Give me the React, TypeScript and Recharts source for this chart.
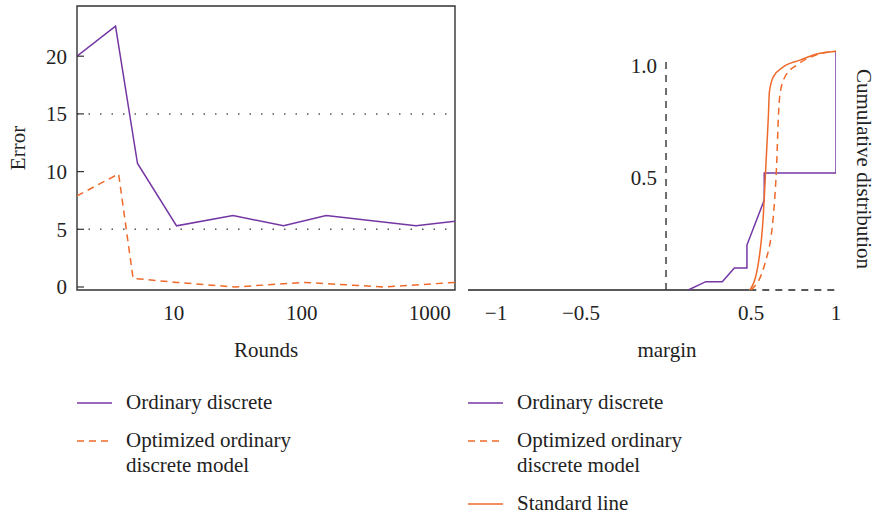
import React from "react";
import { LineChart, Line, XAxis, YAxis, ReferenceLine, ReferenceArea, ReferenceDot } from "recharts";

const PURPLE = "#7436a4";
const ORANGE = "#ef6a2a";
const INK = "#222";
const FONT = '"Liberation Serif", "DejaVu Serif", serif';

// left panel: error against rounds (log axis)
const ordRounds = [1.75, 3.5, 5.2, 10.5, 29, 72, 155, 780, 1575];
const ordError = [20, 22.6, 10.7, 5.3, 6.2, 5.3, 6.2, 5.3, 5.7];
const optRounds = [1.75, 3.7, 4.8, 10.5, 30, 105, 437, 1575];
const optError = [7.9, 9.8, 0.75, 0.4, 0, 0.4, 0, 0.4];
const roundTicks = [10, 100, 1000];
const errorTicks = [0, 5, 10, 15, 20];
const errorGrid = [5, 15];

// right panel: cumulative distribution of margin
const ordMargin = [0.131, 0.234, 0.331, 0.402, 0.476, 0.476, 0.578, 0.578, 1.0, 1.0];
const ordCdf = [0, 0.037, 0.037, 0.098, 0.098, 0.2, 0.4, 0.52, 0.52, 1.062];
const optMargin = [0.5, 0.582, 0.631, 0.651, 0.661, 0.671, 0.7, 0.769, 0.866, 1.0];
const optCdf = [0, 0.118, 0.326, 0.563, 0.77, 0.874, 0.948, 1.0, 1.04, 1.062];
const stdMargin = [0.494, 0.543, 0.572, 0.588, 0.602, 0.608, 0.631, 0.69, 0.788, 0.886, 1.0];
const stdCdf = [0, 0.118, 0.326, 0.563, 0.77, 0.88, 0.948, 0.992, 1.022, 1.049, 1.062];
const marginTicks = [-1, -0.5, 0.5, 1];
const cdfTicks = [0.5, 1.0];

const zip = (xs: number[], ys: number[]) => xs.map((x, i) => ({ x, y: ys[i] }));

const tickStyle = { fontFamily: FONT, fontSize: 21, fill: INK };
const minus = (v: number) => String(v).replace("-", "\u2212");

interface LegendItem {
  name: string;
  color: string;
  dashed?: boolean;
}

function ChartLegend({ items, left }: { items: LegendItem[]; left: number }) {
  return (
    <div style={{ position: "absolute", left, top: 390, display: "flex", flexDirection: "column", gap: 13 }}>
      {items.map((it) => (
        <div key={it.name} style={{ display: "flex", alignItems: "flex-start" }}>
          <svg width={35} height={25} style={{ flex: "none" }}>
            <line x1={0} y1={13} x2={35} y2={13} stroke={it.color} strokeWidth={1.6} strokeDasharray={it.dashed ? "7 5" : undefined} />
          </svg>
          <div style={{ marginLeft: 14, width: 185, fontFamily: FONT, fontSize: 21, lineHeight: "25px", color: INK }}>{it.name}</div>
        </div>
      ))}
    </div>
  );
}

export default function App() {
  return (
    <div style={{ position: "relative", width: 878, height: 515, overflow: "hidden", background: "#fff" }}>
      <style>{`body{margin:0}`}</style>
      <div style={{ position: "absolute", left: 0, top: 0 }}>
        <LineChart width={460} height={370} margin={{ top: 6, right: 5, bottom: 10, left: 0 }}>
          <XAxis
            dataKey="x"
            type="number"
            scale="log"
            domain={[1.75, 1575]}
            allowDataOverflow
            ticks={roundTicks}
            axisLine={false}
            tickLine={false}
            tickMargin={9}
            tick={tickStyle}
            height={70}
            label={{ value: "Rounds", position: "insideBottom", offset: 3, style: tickStyle }}
          />
          <YAxis
            type="number"
            domain={[-0.26, 24.35]}
            allowDataOverflow
            ticks={errorTicks}
            axisLine={false}
            tickSize={-7}
            tickMargin={17}
            tickLine={{ stroke: "#333", strokeWidth: 1.2 }}
            tick={tickStyle}
            width={77}
            label={{ value: "Error", angle: -90, position: "insideLeft", offset: 18, style: { ...tickStyle, textAnchor: "middle" } }}
          />
          {errorGrid.map((g) => (
            <ReferenceLine key={g} y={g} stroke="#555" strokeWidth={1.5} strokeDasharray="1.5 10" />
          ))}
          <ReferenceArea x1={1.75} x2={1575} y1={-0.26} y2={24.35} fill="none" stroke="#333" strokeWidth={1.4} />
          <Line data={zip(ordRounds, ordError)} dataKey="y" name="Ordinary discrete" stroke={PURPLE} strokeWidth={1.5} dot={false} isAnimationActive={false} />
          <Line data={zip(optRounds, optError)} dataKey="y" name="Optimized ordinary discrete model" stroke={ORANGE} strokeWidth={1.5} strokeDasharray="7 5" dot={false} isAnimationActive={false} />
        </LineChart>
      </div>

      <div style={{ position: "absolute", left: 460, top: 0 }}>
        <LineChart width={418} height={370} margin={{ top: 48, right: 0, bottom: 10, left: 8 }}>
          <XAxis
            dataKey="x"
            type="number"
            domain={[-1.165, 1]}
            allowDataOverflow
            ticks={marginTicks}
            tickFormatter={minus}
            axisLine={false}
            tickLine={false}
            tickMargin={9}
            tick={tickStyle}
            height={70}
            label={{ value: "margin", position: "insideBottom", offset: 3, dx: 15, style: tickStyle }}
          />
          <YAxis yAxisId={0} hide type="number" domain={[0, 1.076]} allowDataOverflow />
          <YAxis
            yAxisId="title"
            orientation="right"
            width={42}
            tick={false}
            axisLine={false}
            tickLine={false}
            label={{ value: "Cumulative distribution", angle: 90, position: "insideRight", offset: 14, style: { ...tickStyle, textAnchor: "middle" } }}
          />
          <ReferenceLine segment={[{ x: -1.165, y: 0 }, { x: 0.49, y: 0 }]} stroke="#222" strokeWidth={1.4} />
          <ReferenceLine segment={[{ x: 0.49, y: 0 }, { x: 1, y: 0 }]} stroke="#222" strokeWidth={1.4} strokeDasharray="7 6" />
          <ReferenceLine segment={[{ x: 0, y: 0 }, { x: 0, y: 1.031 }]} stroke="#333" strokeWidth={1.4} strokeDasharray="7 6" />
          {cdfTicks.map((t) => (
            <ReferenceDot
              key={t}
              x={0}
              y={t}
              r={1}
              fill="none"
              stroke="none"
              label={{ value: t.toFixed(1), position: "left", offset: 8, style: tickStyle }}
            />
          ))}
          <Line data={zip(ordMargin, ordCdf)} dataKey="y" name="Ordinary discrete" stroke={PURPLE} strokeWidth={1.5} dot={false} isAnimationActive={false} />
          <Line data={zip(optMargin, optCdf)} dataKey="y" type="monotone" name="Optimized ordinary discrete model" stroke={ORANGE} strokeWidth={1.5} strokeDasharray="7 5" dot={false} isAnimationActive={false} />
          <Line data={zip(stdMargin, stdCdf)} dataKey="y" type="monotone" name="Standard line" stroke={ORANGE} strokeWidth={1.5} dot={false} isAnimationActive={false} />
        </LineChart>
      </div>

      <ChartLegend
        left={77}
        items={[
          { name: "Ordinary discrete", color: PURPLE },
          { name: "Optimized ordinary discrete model", color: ORANGE, dashed: true },
        ]}
      />
      <ChartLegend
        left={468}
        items={[
          { name: "Ordinary discrete", color: PURPLE },
          { name: "Optimized ordinary discrete model", color: ORANGE, dashed: true },
          { name: "Standard line", color: ORANGE },
        ]}
      />
    </div>
  );
}
